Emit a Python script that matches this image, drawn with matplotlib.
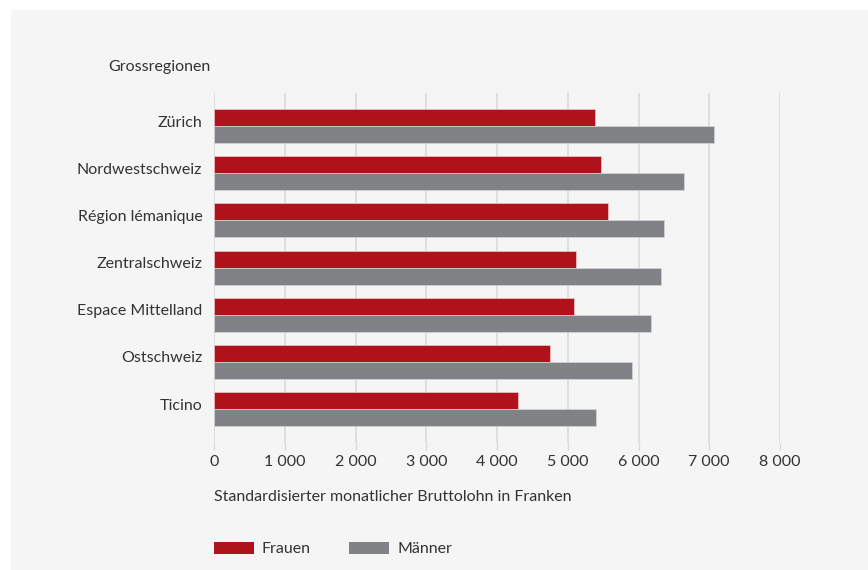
import matplotlib
matplotlib.use("Agg")
import matplotlib.pyplot as plt
import matplotlib.transforms as mtransforms
from matplotlib.patches import Rectangle, Patch
import numpy as np

# Median monthly gross wage by large region, women vs. men
regions = ["Zürich", "Nordwestschweiz", "Région lémanique", "Zentralschweiz",
           "Espace Mittelland", "Ostschweiz", "Ticino"]
frauen = [5385, 5476, 5572, 5118, 5083, 4749, 4290]
maenner = [7070, 6647, 6365, 6319, 6177, 5915, 5399]
x_ticks = [0, 1000, 2000, 3000, 4000, 5000, 6000, 7000, 8000]

RED = "#b0121b"
GREY = "#818286"
PANEL = "#f4f5f4"
GRID = "#d9dada"
TEXT = "#333333"

plt.rcParams["font.family"] = ["Lato", "DejaVu Sans"]

fig = plt.figure(figsize=(8.68, 5.70), dpi=100)
fig.patch.set_facecolor("white")
fig.patches.append(Rectangle((11 / 868, 0), 1, 1 - 10 / 570, transform=fig.transFigure,
                             facecolor=PANEL, edgecolor="none", zorder=-10))

ax = fig.add_axes([214 / 868, 1 - 443 / 570, 566 / 868, 350 / 570])
ax.set_facecolor("none")

y = np.arange(len(regions))
h = 0.36
ax.barh(y - h / 2, frauen, height=h, color=RED, edgecolor="#f0c8ca", linewidth=0.5, zorder=3)
ax.barh(y + h / 2, maenner, height=h, color=GREY, edgecolor="#d5d6d8", linewidth=0.5, zorder=3)

ax.set_xlim(0, 8000)
ax.set_ylim(6.72, -0.70)
ax.set_xticks(x_ticks)
ax.set_xticklabels([f"{v:,}".replace(",", " ") for v in x_ticks], fontsize=11.5, color=TEXT)
ax.set_yticks(y)
ax.set_yticklabels(regions, fontsize=11.5, color=TEXT)
ax.tick_params(axis="y", length=0, pad=12)
ax.tick_params(axis="x", length=5, width=1, color=GRID, pad=4)
ax.grid(axis="x", color=GRID, linewidth=1.2, zorder=0)
for s in ax.spines.values():
    s.set_visible(False)

# region names sit a little above the centre of each bar pair
shift = mtransforms.ScaledTranslation(5 / 100, 5 / 100, fig.dpi_scale_trans)
for lbl in ax.get_yticklabels():
    lbl.set_transform(lbl.get_transform() + shift)

fig.text(108 / 868, 1 - 67 / 570, "Grossregionen", fontsize=11.5, color=TEXT, va="center")
fig.text(214 / 868, 1 - 497 / 570, "Standardisierter monatlicher Bruttolohn in Franken",
         fontsize=11.5, color=TEXT, va="center")

handles = [Patch(facecolor=RED, label="Frauen"), Patch(facecolor=GREY, label="Männer")]
fig.legend(handles=handles, loc="center left", bbox_to_anchor=(206 / 868, 1 - 549 / 570),
           ncol=2, frameon=False, fontsize=11.5, handlelength=2.5, handleheight=0.8,
           handletextpad=0.5, columnspacing=2.4, labelcolor=TEXT, borderpad=0)

fig.savefig("out.png", dpi=100, facecolor=fig.get_facecolor())
